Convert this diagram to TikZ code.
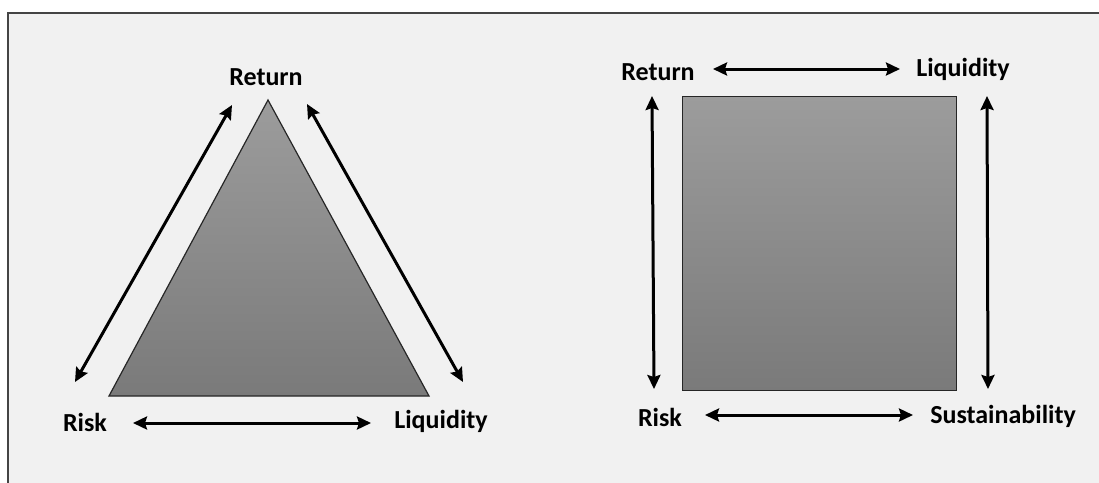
\documentclass[tikz,border=0pt]{standalone}
\usepackage{fontspec}
\setmainfont{Carlito}
\usetikzlibrary{arrows.meta}
\definecolor{bgpanel}{HTML}{F1F1F1}
\definecolor{framecol}{HTML}{444444}
\definecolor{shtop}{HTML}{9C9C9C}
\definecolor{shbot}{HTML}{7A7A7A}
\tikzset{
  lbl/.style={font=\fontsize{26}{30}\selectfont\bfseries, inner sep=0pt, text=black},
  dblarrow/.style={line width=3pt, {Stealth[length=14pt,width=13pt,inset=2pt]}-{Stealth[length=14pt,width=13pt,inset=2pt]}},
  shapefill/.style={draw=black!85, line width=1.2pt, top color=shtop, bottom color=shbot}
}
\begin{document}
\begin{tikzpicture}[x=1pt,y=-1pt]
\useasboundingbox (0,0) rectangle (1099,482);
\fill[white] (0,0) rectangle (1099,482);
\fill[bgpanel] (8,13) rectangle (1110,490);
\draw[framecol, line width=1.6pt] (8,495) -- (8,13) -- (1110,13);
% triangle
\coordinate (tA) at (268,100);
\coordinate (tB) at (109,396);
\coordinate (tC) at (429,396);
\shade[shapefill] (tA) -- (tC) -- (tB) -- cycle;
\node[lbl] (retL) at (266,77) {Return};
\node[lbl] (riskL) at (85,422) {Risk};
\node[lbl] (liqL) at (441,421) {Liquidity};
\coordinate (a1s) at (75,382); \coordinate (a1e) at (232,105);
\coordinate (a2s) at (307,104); \coordinate (a2e) at (463,382);
\coordinate (a3s) at (133,423); \coordinate (a3e) at (371,423);
\draw[dblarrow] (a1s) -- (a1e);
\draw[dblarrow] (a2s) -- (a2e);
\draw[dblarrow] (a3s) -- (a3e);
% square
\node[shapefill, minimum width=274pt, minimum height=294pt, inner sep=0pt] (sq) at (819.5,243.5) {};
\node[lbl] (retR) at (658,72) {Return};
\node[lbl] (liqR) at (963,69) {Liquidity};
\node[lbl] (riskR) at (660,417) {Risk};
\node[lbl] (susR) at (1003,416) {Sustainability};
\coordinate (b1s) at (713,69); \coordinate (b1e) at (900,69);
\coordinate (b2s) at (652,96); \coordinate (b2e) at (654,389);
\coordinate (b3s) at (987,96); \coordinate (b3e) at (988,389);
\coordinate (b4s) at (705,415); \coordinate (b4e) at (913,415);
\draw[dblarrow] (b1s) -- (b1e);
\draw[dblarrow] (b2s) -- (b2e);
\draw[dblarrow] (b3s) -- (b3e);
\draw[dblarrow] (b4s) -- (b4e);
\end{tikzpicture}
\end{document}
